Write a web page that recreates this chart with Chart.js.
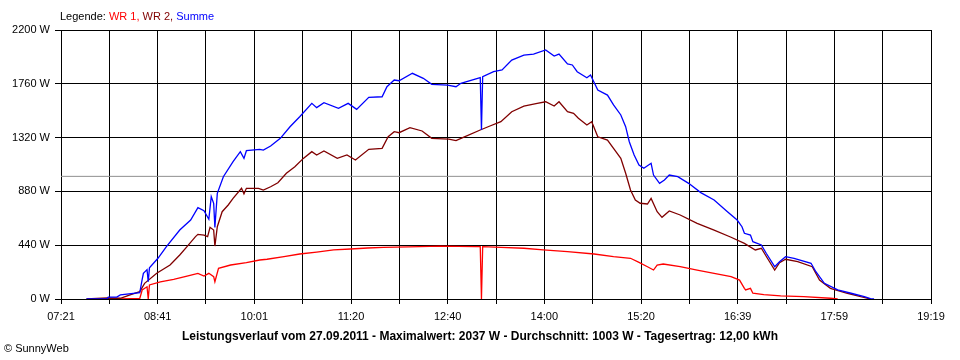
<!DOCTYPE html>
<html>
<head>
<meta charset="utf-8">
<script src="https://cdn.jsdelivr.net/npm/chart.js@4/dist/chart.umd.min.js"></script>
<style>
  body { margin: 0; background: #fff; }
  #wrap { position: relative; width: 960px; height: 360px; font-family: "Liberation Sans", Arial, sans-serif; }
  #legend { position: absolute; left: 60px; top: 10px; font-size: 11px; color: #000; }
  #title { position: absolute; left: 0; width: 960px; top: 329px; text-align: center; font-size: 12px; font-weight: bold; }
  #copy { position: absolute; left: 4px; top: 342px; font-size: 11px; }
</style>
</head>
<body>
<div id="wrap">
  <canvas id="chart" width="960" height="360"></canvas>
  <div id="legend">Legende: <span style="color:#ff0000">WR 1,</span> <span style="color:#800000">WR 2,</span> <span style="color:#0000ff">Summe</span></div>
  <div id="title">Leistungsverlauf vom 27.09.2011 - Maximalwert: 2037 W - Durchschnitt: 1003 W - Tagesertrag: 12,00 kWh</div>
  <div id="copy">© SunnyWeb</div>
</div>
<script>
// x axis labels (every second grid line)
const xLabels = ['07:21', '08:41', '10:01', '11:20', '12:40', '14:00', '15:20', '16:39', '17:59', '19:19']
const average = 1003

// Summe (blue)
const sumTimes = ['07:42','07:59','08:00','08:07','08:10','08:26','08:28','08:29','08:32','08:33','08:34','08:41','08:48','08:59','09:08','09:14','09:19','09:23','09:25','09:27','09:28','09:30','09:35','09:43','09:49','09:52','09:54','10:05','10:08','10:14','10:22','10:30','10:38','10:48','10:52','10:58','11:10','11:18','11:25','11:35','11:46','11:50','11:56','12:00','12:11','12:20','12:27','12:40','12:47','12:51','13:07','13:08','13:09','13:18','13:25','13:33','13:43','13:51','14:01','14:08','14:12','14:19','14:23','14:27','14:35','14:38','14:44','14:52','14:57','15:03','15:07','15:10','15:14','15:18','15:22','15:28','15:30','15:35','15:39','15:43','15:50','15:59','16:09','16:20','16:31','16:39','16:43','16:45','16:50','16:52','16:59','17:03','17:10','17:14','17:19','17:26','17:40','17:44','17:51','18:02','18:13','18:24','18:29','18:32']
const sumWatts = [0,0,16,16,33,52,160,210,240,141,255,333,428,564,646,747,722,652,837,783,586,864,1000,1123,1205,1150,1213,1224,1218,1251,1314,1409,1491,1600,1565,1605,1560,1600,1551,1649,1654,1736,1791,1785,1846,1805,1756,1750,1736,1764,1810,1382,1818,1859,1873,1954,1995,2003,2037,1987,2003,1922,1914,1859,1810,1832,1709,1668,1587,1505,1409,1286,1178,1096,1069,1110,1014,946,973,1014,1000,946,870,810,714,646,591,537,523,469,442,374,264,305,346,333,292,223,128,74,47,19,3,0]

// WR 2 (dark red)
const wr2Times = ['07:42','07:59','08:10','08:18','08:26','08:30','08:40','08:51','08:59','09:05','09:12','09:14','09:19','09:22','09:24','09:27','09:28','09:30','09:34','09:39','09:43','09:50','09:52','09:54','10:04','10:08','10:14','10:20','10:27','10:34','10:41','10:48','10:52','10:58','11:09','11:17','11:24','11:35','11:46','11:51','11:56','12:00','12:09','12:19','12:27','12:41','12:47','12:53','13:07','13:15','13:24','13:33','13:43','13:54','14:01','14:08','14:12','14:19','14:24','14:28','14:35','14:39','14:44','14:52','14:57','15:03','15:07','15:11','15:15','15:19','15:25','15:28','15:33','15:37','15:43','15:52','16:06','16:20','16:34','16:45','16:54','16:59','17:04','17:10','17:14','17:19','17:29','17:41','17:47','17:56','18:10','18:21','18:27','18:29']
const wr2Watts = [0,8,6,33,60,128,210,278,360,428,510,529,523,510,586,564,433,591,714,769,823,905,859,905,905,891,918,951,1028,1082,1150,1205,1178,1210,1150,1178,1137,1224,1232,1327,1368,1360,1401,1374,1314,1308,1295,1322,1382,1415,1450,1532,1578,1600,1613,1578,1613,1532,1518,1478,1423,1450,1327,1300,1232,1150,1028,891,810,783,777,823,714,668,720,687,619,564,505,455,401,415,333,237,297,325,305,264,155,87,47,19,6,0]

// WR 1 (red)
const wr1Times = ['08:10','08:26','08:28','08:32','08:33','08:34','08:43','08:54','09:05','09:14','09:19','09:23','09:27','09:28','09:31','09:41','09:54','10:05','10:11','10:25','10:38','10:52','11:06','11:20','11:34','11:47','12:08','12:34','13:03','13:07','13:08','13:09','13:24','13:43','13:59','14:19','14:41','14:57','15:11','15:18','15:25','15:30','15:33','15:38','15:52','16:06','16:20','16:34','16:41','16:45','16:46','16:50','16:52','17:01','17:15','17:34','17:56','18:02']
const wr1Watts = [0,4,74,100,0,115,141,161,188,210,188,210,183,141,251,278,297,319,325,346,368,384,401,409,417,423,427,432,428,428,0,428,423,415,401,387,368,346,333,300,264,237,278,286,264,237,210,183,155,87,74,87,47,35,25,19,6,0]

const toMin = s => {
    const [h, m] = s.split(':').map(Number)
    return h * 60 + m
}
const points = (times, watts) => times.map((t, i) => ({ x: toMin(t), y: watts[i] }))

const xMin = toMin(xLabels[0])
const xMax = toMin(xLabels[xLabels.length - 1])
const font = { family: '"Liberation Sans", Arial, sans-serif', size: 11 }

const lineSet = (label, data, color) => ({
    label: label,
    data: data,
    borderColor: color,
    borderWidth: 1.3,
    pointRadius: 0,
    tension: 0,
})

new Chart(document.getElementById('chart'), {
    type: 'line',
    data: {
        datasets: [
            lineSet('Summe', points(sumTimes, sumWatts), '#0000ff'),
            lineSet('WR 2', points(wr2Times, wr2Watts), '#800000'),
            lineSet('WR 1', points(wr1Times, wr1Watts), '#ff0000'),
            {
                label: 'Durchschnitt',
                data: [{ x: xMin, y: average }, { x: xMax, y: average }],
                borderColor: '#909090',
                borderWidth: 1,
                pointRadius: 0,
            },
        ],
    },
    options: {
        responsive: false,
        animation: false,
        layout: { padding: { left: 0, right: 29, top: 30, bottom: 39 } },
        plugins: { legend: { display: false }, tooltip: { enabled: false } },
        scales: {
            x: {
                type: 'linear',
                min: xMin,
                max: xMax,
                afterBuildTicks: scale => {
                    scale.ticks = Array.from({ length: 19 }, (_, i) => ({ value: xMin + i * (xMax - xMin) / 18 }))
                },
                afterFit: scale => { scale.height = 22 },
                ticks: {
                    autoSkip: false,
                    maxRotation: 0,
                    color: '#000',
                    font: font,
                    padding: 6,
                    callback: (v, i) => (i % 2 === 0 ? xLabels[i / 2] : ''),
                },
                grid: { color: '#000', lineWidth: 1, tickLength: 5 },
                border: { color: '#000' },
            },
            y: {
                min: 0,
                max: 2200,
                afterFit: scale => { scale.width = 61 },
                ticks: {
                    stepSize: 440,
                    color: '#000',
                    font: font,
                    padding: 5,
                    callback: v => v + ' W',
                },
                grid: { color: '#000', lineWidth: 1, tickLength: 6 },
                border: { color: '#000' },
            },
        },
    },
})
</script>
</body>
</html>
